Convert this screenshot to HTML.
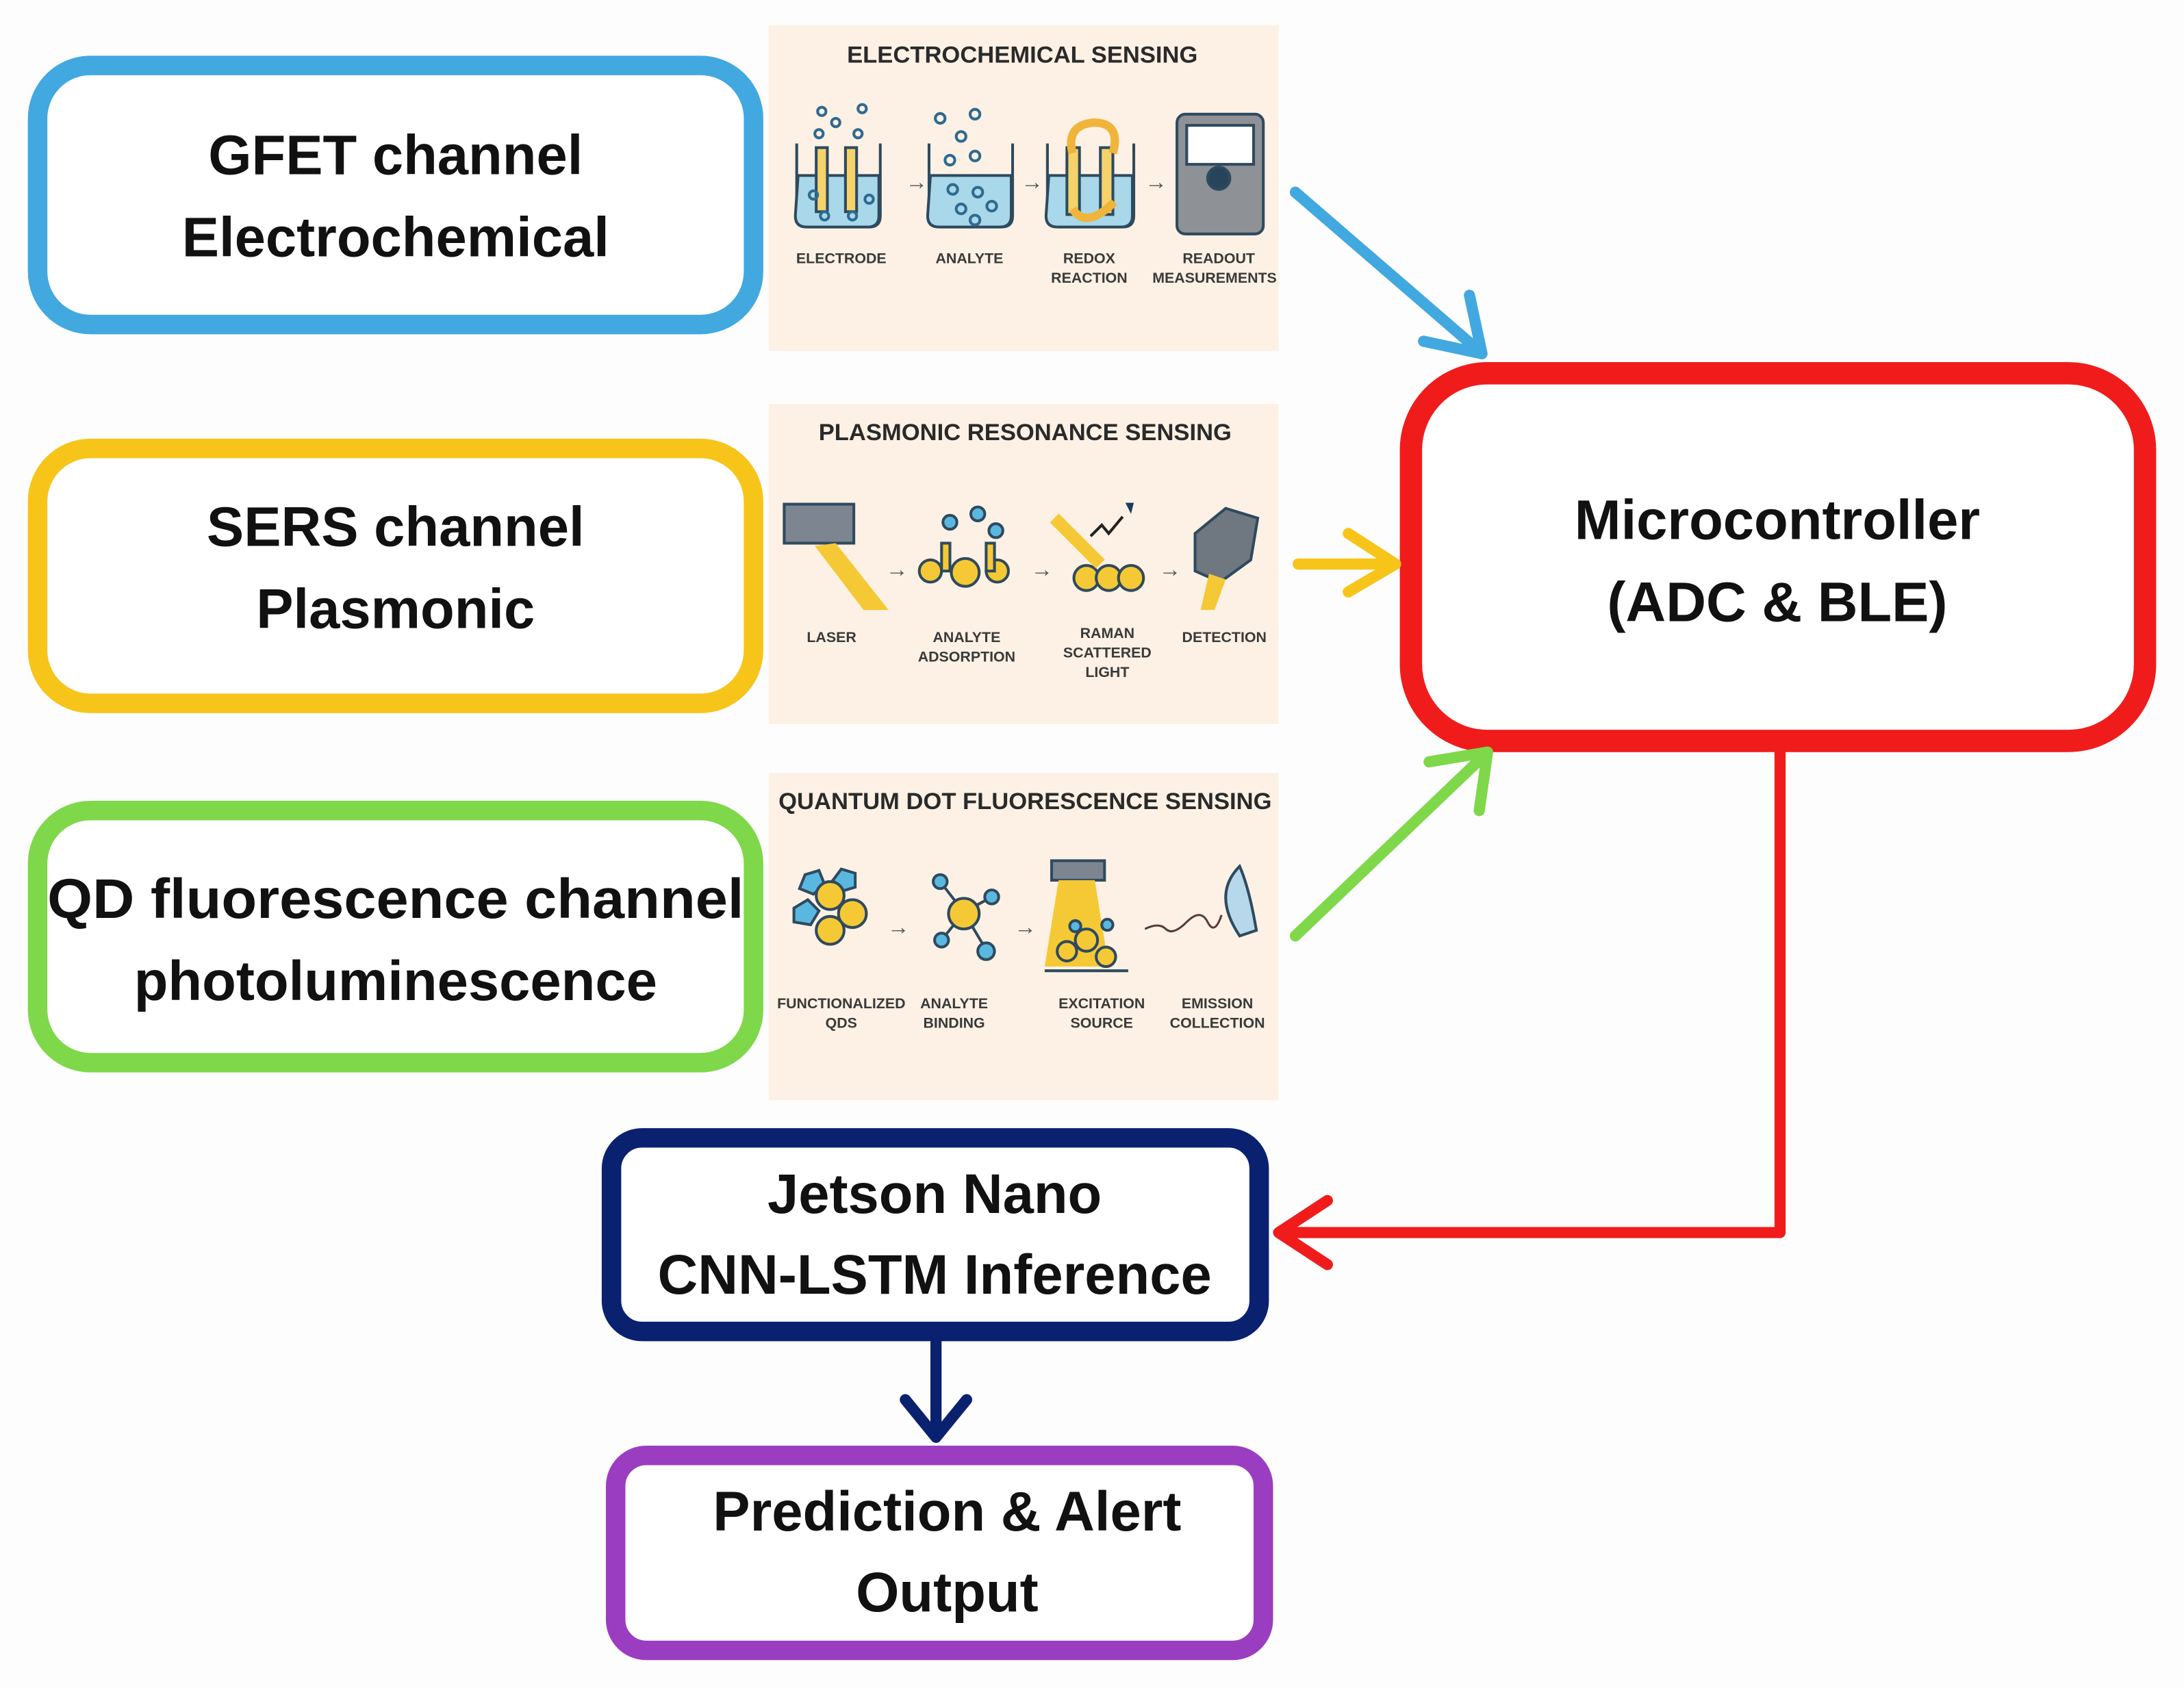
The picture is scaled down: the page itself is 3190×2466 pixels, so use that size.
<!DOCTYPE html>
<html><head><meta charset="utf-8"><style>
html,body{margin:0;padding:0;background:#fdfdfd;}
svg{display:block;}
.t{font-family:"Liberation Sans",sans-serif;font-weight:bold;fill:#111;text-anchor:middle;}
.h{font-family:"Liberation Sans",sans-serif;font-weight:bold;fill:#2a2a2a;text-anchor:middle;font-size:17px;}
.c{font-family:"Liberation Sans",sans-serif;font-weight:bold;fill:#3a3a3a;text-anchor:middle;font-size:10.5px;}
</style></head><body>
<svg width="3190" height="2466" viewBox="0 0 1568 1212" preserveAspectRatio="none" xmlns="http://www.w3.org/2000/svg">
<rect width="1568" height="1212" fill="#fdfdfd"/>
<!-- panels -->
<rect x="552" y="18" width="366" height="234" fill="#fcf1e4"/>
<rect x="552" y="290" width="366" height="230" fill="#fcf1e4"/>
<rect x="552" y="555" width="366" height="235" fill="#fcf1e4"/>
<text class="h" x="734" y="45">ELECTROCHEMICAL SENSING</text>
<text class="h" x="736" y="316">PLASMONIC RESONANCE SENSING</text>
<text class="h" x="736" y="581">QUANTUM DOT FLUORESCENCE SENSING</text>
<!-- panel1 icons -->
<g stroke="#2f4a5e" stroke-width="2">
<path d="M572 103 V155 q0 8 8 8 h44 q8 0 8-8 V103" fill="none"/>
<path d="M573 126 H631 V155 q0 8-8 8 h-44 q-8 0-8-8z" fill="#a8d8ea"/>
<rect x="586" y="106" width="8" height="46" fill="#f5d36a"/><rect x="607" y="106" width="8" height="46" fill="#f5d36a"/>
<path d="M667 103 V155 q0 8 8 8 h44 q8 0 8-8 V103" fill="none"/>
<path d="M668 126 H726 V155 q0 8-8 8 h-44 q-8 0-8-8z" fill="#a8d8ea"/>
<path d="M752 103 V155 q0 8 8 8 h46 q8 0 8-8 V103" fill="none"/>
<path d="M753 126 H813 V155 q0 8-8 8 h-46 q-8 0-8-8z" fill="#a8d8ea"/>
<rect x="766" y="106" width="9" height="48" fill="#f5d36a"/><rect x="790" y="106" width="9" height="48" fill="#f5d36a"/>
<rect x="845" y="82" width="62" height="86" rx="6" fill="#8e9196"/>
<rect x="852" y="90" width="48" height="28" fill="#fff"/>
<circle cx="875" cy="128" r="8" fill="#26445a"/>
</g>
<path d="M770 110 q-5-20 15-22 q20 0 14 22 M770 150 q10 15 30-5" stroke="#f0b43a" stroke-width="6" fill="none"/>
<g fill="none" stroke="#2f6a90" stroke-width="2">
<circle cx="590" cy="80" r="3"/><circle cx="619" cy="78" r="3"/><circle cx="600" cy="88" r="3"/><circle cx="588" cy="96" r="3"/><circle cx="616" cy="96" r="3"/>
<circle cx="584" cy="140" r="3"/><circle cx="624" cy="143" r="3"/><circle cx="592" cy="155" r="3"/><circle cx="612" cy="155" r="3"/>
<circle cx="675" cy="85" r="3.5"/><circle cx="700" cy="82" r="3.5"/><circle cx="690" cy="98" r="3.5"/><circle cx="682" cy="115" r="3.5"/><circle cx="700" cy="112" r="3.5"/>
<circle cx="684" cy="136" r="3.5"/><circle cx="702" cy="138" r="3.5"/><circle cx="690" cy="150" r="3.5"/><circle cx="712" cy="148" r="3.5"/><circle cx="700" cy="158" r="3.5"/>
</g>
<g fill="#555"><text x="650" y="136" font-size="16" font-family="Liberation Sans">→</text><text x="733" y="136" font-size="16" font-family="Liberation Sans">→</text><text x="822" y="136" font-size="16" font-family="Liberation Sans">→</text></g>
<text class="c" x="604" y="189">ELECTRODE</text><text class="c" x="696" y="189">ANALYTE</text>
<text class="c" x="782" y="189">REDOX</text><text class="c" x="782" y="203">REACTION</text>
<text class="c" x="875" y="189">READOUT</text><text class="c" x="872" y="203">MEASUREMENTS</text>
<!-- panel2 icons -->
<g stroke="#2f4a5e" stroke-width="2">
<rect x="563" y="362" width="50" height="28" fill="#7c8590"/>
<path d="M600 390 L638 438 H620 L585 392z" fill="#f5c936" stroke="none"/>
<circle cx="668" cy="410" r="8" fill="#f5c936"/><circle cx="693" cy="411" r="10" fill="#f5c936"/><circle cx="716" cy="410" r="8" fill="#f5c936"/>
<rect x="676" y="390" width="6" height="20" fill="#f5c936"/><rect x="708" y="390" width="6" height="20" fill="#f5c936"/>
<circle cx="682" cy="375" r="5" fill="#5ab8e0"/><circle cx="702" cy="369" r="5" fill="#5ab8e0"/><circle cx="715" cy="381" r="5" fill="#5ab8e0"/>
<circle cx="780" cy="415" r="9" fill="#f5c936"/><circle cx="796" cy="415" r="9" fill="#f5c936"/><circle cx="812" cy="415" r="9" fill="#f5c936"/>
<path d="M858 383 L880 365 L903 372 L898 402 L876 418 L858 410z" fill="#6f7780"/>
</g>
<path d="M757 372 L790 405" stroke="#f5c936" stroke-width="9"/>
<path d="M783 385 l8-8 5 6 10-12" stroke="#222" stroke-width="2" fill="none"/><path d="M808 361 l6 0 -2 8z" fill="#1d3a5a"/>
<path d="M868 412 l12 4 -8 22 h-10z" fill="#f5c936"/>
<g fill="#555"><text x="636" y="414" font-size="16" font-family="Liberation Sans">→</text><text x="740" y="414" font-size="16" font-family="Liberation Sans">→</text><text x="832" y="414" font-size="16" font-family="Liberation Sans">→</text></g>
<text class="c" x="597" y="461">LASER</text>
<text class="c" x="694" y="461">ANALYTE</text><text class="c" x="694" y="475">ADSORPTION</text>
<text class="c" x="795" y="458">RAMAN</text><text class="c" x="795" y="472">SCATTERED</text><text class="c" x="795" y="486">LIGHT</text>
<text class="c" x="879" y="461">DETECTION</text>
<!-- panel3 icons -->
<g stroke="#2f4a5e" stroke-width="2">
<polygon points="578,628 588,625 592,635 584,642 574,638" fill="#5ab8e0"/><polygon points="604,624 614,627 614,637 604,640 598,632" fill="#5ab8e0"/><polygon points="570,652 580,646 588,654 582,664 570,662" fill="#5ab8e0"/>
<circle cx="596" cy="643" r="10" fill="#f5c936"/><circle cx="612" cy="656" r="10" fill="#f5c936"/><circle cx="596" cy="668" r="10" fill="#f5c936"/>
<path d="M675 633 L692 655 L712 644 M692 655 L676 675 M692 655 L708 682" fill="none"/>
<circle cx="692" cy="656" r="11" fill="#f5c936"/>
<circle cx="675" cy="633" r="5" fill="#5ab8e0"/><circle cx="712" cy="644" r="5" fill="#5ab8e0"/><circle cx="676" cy="675" r="5" fill="#5ab8e0"/><circle cx="708" cy="683" r="6" fill="#5ab8e0"/>
<rect x="755" y="618" width="38" height="14" fill="#7c8590"/>
</g>
<path d="M760 632 h26 l10 62 h-46z" fill="#f5c936"/>
<g stroke="#2f4a5e" stroke-width="2"><circle cx="766" cy="683" r="7" fill="#f5c936"/><circle cx="780" cy="675" r="8" fill="#f5c936"/><circle cx="794" cy="687" r="7" fill="#f5c936"/><circle cx="772" cy="665" r="4" fill="#5ab8e0"/><circle cx="795" cy="664" r="4" fill="#5ab8e0"/><path d="M750 697 H810"/></g>
<path d="M822 667 q10-5 15 0 t15-5 t15 0 t10-5" stroke="#5a3a3a" stroke-width="1.5" fill="none"/>
<path d="M890 622 q-20 20 0 50 l12-4 q-5-30-12-46z" fill="#b7d8ea" stroke="#2f4a5e" stroke-width="2"/>
<g fill="#555"><text x="637" y="671" font-size="16" font-family="Liberation Sans">→</text><text x="728" y="671" font-size="16" font-family="Liberation Sans">→</text></g>
<text class="c" x="604" y="724">FUNCTIONALIZED</text><text class="c" x="604" y="738">QDS</text>
<text class="c" x="685" y="724">ANALYTE</text><text class="c" x="685" y="738">BINDING</text>
<text class="c" x="791" y="724">EXCITATION</text><text class="c" x="791" y="738">SOURCE</text>
<text class="c" x="874" y="724">EMISSION</text><text class="c" x="874" y="738">COLLECTION</text>
<!-- left boxes -->
<rect x="27" y="47" width="514" height="186" rx="38" fill="#fff" stroke="#42a8e0" stroke-width="14"/>
<text class="t" x="284" y="125" font-size="40">GFET channel</text>
<text class="t" x="284" y="184" font-size="40">Electrochemical</text>
<rect x="27" y="322" width="514" height="183" rx="38" fill="#fff" stroke="#f7c41a" stroke-width="14"/>
<text class="t" x="284" y="392" font-size="40">SERS channel</text>
<text class="t" x="284" y="451" font-size="40">Plasmonic</text>
<rect x="27" y="582" width="514" height="181" rx="38" fill="#fff" stroke="#7ed84a" stroke-width="14"/>
<text class="t" x="284" y="659" font-size="40" textLength="500" lengthAdjust="spacingAndGlyphs">QD fluorescence channel</text>
<text class="t" x="284" y="718" font-size="40">photoluminescence</text>
<!-- microcontroller -->
<rect x="1013" y="268" width="527" height="264" rx="55" fill="#fff" stroke="#f01c1c" stroke-width="16"/>
<text class="t" x="1276" y="387" font-size="40">Microcontroller</text>
<text class="t" x="1276" y="446" font-size="40">(ADC &amp; BLE)</text>
<!-- arrows -->
<g fill="none" stroke-width="8" stroke-linecap="round" stroke-linejoin="round">
<path d="M930 138 L1062 252 M1022 245 L1064 254 L1055 212" stroke="#42a8e0"/>
<path d="M932 405 L1000 405 M968 383 L1002 405 L968 425" stroke="#f7c41a"/>
<path d="M930 672 L1066 542 M1026 547 L1068 540 L1062 582" stroke="#7ed84a"/>
<path d="M1278 540 V885 H920 M953 862 L918 885 L953 908" stroke="#f01c1c"/>
<path d="M672 964 V1030 M650 1005 L672 1032 L694 1005" stroke="#0a2170"/>
</g>
<!-- jetson -->
<rect x="439" y="817" width="465" height="139" rx="22" fill="#fff" stroke="#0a2170" stroke-width="14"/>
<text class="t" x="671" y="871" font-size="40">Jetson Nano</text>
<text class="t" x="671" y="929" font-size="40">CNN-LSTM Inference</text>
<!-- prediction -->
<rect x="442" y="1045" width="465" height="140" rx="22" fill="#fff" stroke="#9b3dc0" stroke-width="14"/>
<text class="t" x="680" y="1099" font-size="40">Prediction &amp; Alert</text>
<text class="t" x="680" y="1157" font-size="40">Output</text>
</svg>
</body></html>
